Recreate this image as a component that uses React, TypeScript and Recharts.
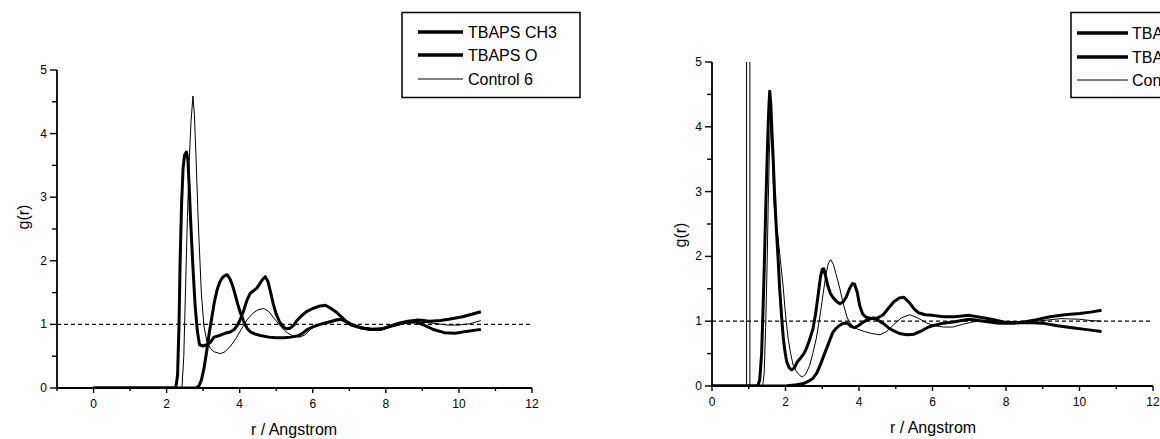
import React from 'react';
import { LineChart, Line, XAxis, YAxis, ReferenceLine } from 'recharts';

const FONT = "'Liberation Sans', Arial, Helvetica, sans-serif";

// ---- series names / styles (legend order) ----
const seriesNames = ['TBAPS CH3', 'TBAPS O', 'Control 6'];
const seriesWidths = [3, 3, 1];

// ---- tick values ----
const xTicksLeft = [-1, 0, 1, 2, 3, 4, 5, 6, 7, 8, 9, 10, 11, 12];
const xTicksRight = [0, 1, 2, 3, 4, 5, 6, 7, 8, 9, 10, 11, 12];
const yTicks = [0, 0.5, 1, 1.5, 2, 2.5, 3, 3.5, 4, 4.5, 5];
const refLevel = 1;
const rightSpikes = [0.94, 1.03];

// ---- left panel data: [r, g(r)] ----
const leftCH3 = [[0,0],[2.8,0],[2.88,0.03],[2.95,0.12],[3.02,0.3],[3.1,0.59],[3.17,0.88],[3.24,1.12],[3.31,1.36],[3.38,1.54],[3.45,1.66],[3.52,1.73],[3.6,1.77],[3.66,1.78],[3.73,1.72],[3.8,1.62],[3.87,1.48],[3.94,1.33],[4.02,1.18],[4.1,1.06],[4.2,0.94],[4.3,0.88],[4.42,0.85],[4.6,0.82],[4.8,0.8],[5.0,0.79],[5.2,0.79],[5.4,0.8],[5.6,0.82],[5.72,0.86],[5.85,0.92],[6.0,0.96],[6.2,1.0],[6.4,1.03],[6.6,1.06],[6.78,1.08],[6.92,1.04],[7.05,0.99],[7.3,0.95],[7.6,0.92],[7.9,0.93],[8.2,0.98],[8.5,1.03],[8.8,1.04],[9.05,0.99],[9.3,0.92],[9.6,0.87],[9.9,0.86],[10.2,0.89],[10.45,0.91],[10.6,0.92]];
const leftO = [[0,0],[2.25,0],[2.3,0.2],[2.34,1.0],[2.37,2.0],[2.41,2.9],[2.45,3.45],[2.49,3.66],[2.54,3.71],[2.58,3.6],[2.62,3.15],[2.66,2.6],[2.72,1.9],[2.78,1.3],[2.84,0.9],[2.9,0.68],[3.0,0.66],[3.1,0.68],[3.2,0.72],[3.3,0.8],[3.47,0.83],[3.6,0.86],[3.74,0.88],[3.85,0.92],[3.93,0.98],[4.02,1.08],[4.11,1.22],[4.2,1.38],[4.29,1.49],[4.38,1.53],[4.47,1.57],[4.55,1.64],[4.63,1.71],[4.7,1.75],[4.77,1.68],[4.84,1.52],[4.92,1.32],[5.0,1.16],[5.1,1.03],[5.2,0.96],[5.28,0.93],[5.38,0.94],[5.48,0.99],[5.58,1.07],[5.7,1.14],[5.83,1.2],[6.0,1.25],[6.2,1.29],[6.35,1.3],[6.5,1.25],[6.65,1.19],[6.8,1.11],[6.93,1.04],[7.1,0.99],[7.35,0.94],[7.6,0.92],[7.85,0.92],[8.1,0.97],[8.35,1.02],[8.6,1.05],[8.9,1.07],[9.2,1.05],[9.5,1.06],[9.8,1.09],[10.1,1.12],[10.35,1.16],[10.6,1.2]];
const leftControl = [[0,0],[2.42,0],[2.47,0.5],[2.52,1.6],[2.57,2.7],[2.62,3.6],[2.67,4.2],[2.72,4.59],[2.76,4.3],[2.8,3.7],[2.87,2.55],[2.95,1.5],[3.02,0.98],[3.1,0.74],[3.2,0.62],[3.3,0.57],[3.47,0.54],[3.6,0.57],[3.75,0.66],[3.9,0.78],[4.05,0.93],[4.2,1.07],[4.35,1.17],[4.5,1.23],[4.66,1.25],[4.8,1.2],[4.92,1.11],[5.02,1.04],[5.15,0.95],[5.3,0.87],[5.45,0.82],[5.65,0.8],[5.8,0.84],[5.93,0.92],[6.1,0.98],[6.25,1.02],[6.39,1.04],[6.6,1.08],[6.75,1.09],[6.9,1.06],[7.02,1.01],[7.3,0.96],[7.6,0.94],[7.9,0.94],[8.2,0.97],[8.5,1.01],[8.8,1.03],[9.1,1.03],[9.4,1.01],[9.7,0.99],[10.0,0.99],[10.3,1.01],[10.6,1.06]];

// ---- right panel data ----
const rightCH3 = [[0,0],[2.0,0],[2.3,0.02],[2.5,0.04],[2.62,0.07],[2.75,0.12],[2.85,0.2],[2.95,0.33],[3.05,0.48],[3.12,0.58],[3.2,0.7],[3.28,0.82],[3.36,0.88],[3.46,0.93],[3.57,0.97],[3.68,0.97],[3.78,0.92],[3.88,0.9],[3.98,0.93],[4.1,0.98],[4.22,1.02],[4.38,1.05],[4.5,1.02],[4.65,0.97],[4.8,0.9],[4.95,0.85],[5.1,0.81],[5.3,0.79],[5.5,0.8],[5.7,0.85],[5.85,0.9],[6.0,0.93],[6.3,0.97],[6.6,0.99],[7.0,1.03],[7.4,1.0],[7.8,0.97],[8.2,0.97],[8.6,0.98],[9.0,0.97],[9.4,0.93],[9.8,0.9],[10.2,0.87],[10.6,0.84]];
const rightO = [[0,0],[1.25,0],[1.3,0.1],[1.35,0.5],[1.39,1.2],[1.43,2.0],[1.47,2.9],[1.51,3.7],[1.54,4.2],[1.57,4.55],[1.6,4.35],[1.63,3.95],[1.66,3.57],[1.7,3.0],[1.75,2.44],[1.8,1.95],[1.84,1.51],[1.89,1.1],[1.94,0.74],[1.98,0.55],[2.03,0.38],[2.1,0.28],[2.17,0.25],[2.24,0.28],[2.32,0.37],[2.42,0.44],[2.5,0.5],[2.57,0.58],[2.66,0.72],[2.75,0.89],[2.82,1.12],[2.89,1.41],[2.95,1.68],[3.0,1.8],[3.04,1.81],[3.09,1.7],[3.15,1.55],[3.22,1.43],[3.3,1.36],[3.4,1.3],[3.48,1.27],[3.57,1.3],[3.66,1.38],[3.74,1.5],[3.82,1.58],[3.88,1.57],[3.95,1.45],[4.02,1.24],[4.1,1.11],[4.2,1.06],[4.35,1.04],[4.5,1.05],[4.66,1.1],[4.8,1.2],[4.95,1.3],[5.1,1.36],[5.22,1.37],[5.38,1.28],[5.5,1.19],[5.62,1.13],[5.8,1.1],[6.0,1.09],[6.3,1.07],[6.6,1.07],[7.0,1.09],[7.3,1.06],[7.6,1.03],[8.0,0.98],[8.4,0.98],[8.8,1.02],[9.2,1.07],[9.6,1.1],[10.0,1.12],[10.3,1.14],[10.6,1.17]];
const rightControl = [[0,0],[1.38,0],[1.42,0.2],[1.46,0.9],[1.5,1.9],[1.53,2.8],[1.56,3.6],[1.6,4.1],[1.64,3.6],[1.69,2.8],[1.74,2.42],[1.79,2.33],[1.86,1.95],[1.94,1.51],[2.0,1.1],[2.07,0.74],[2.14,0.5],[2.21,0.32],[2.3,0.22],[2.39,0.16],[2.46,0.14],[2.55,0.18],[2.66,0.32],[2.75,0.52],[2.84,0.74],[2.93,1.05],[3.02,1.41],[3.1,1.72],[3.17,1.9],[3.23,1.95],[3.3,1.88],[3.38,1.72],[3.48,1.5],[3.58,1.25],[3.68,1.05],[3.8,0.94],[3.95,0.88],[4.15,0.84],[4.35,0.81],[4.57,0.79],[4.75,0.84],[4.95,0.95],[5.15,1.05],[5.38,1.1],[5.6,1.05],[5.85,0.97],[6.05,0.93],[6.3,0.91],[6.55,0.91],[6.8,0.95],[7.1,0.99],[7.5,1.01],[8.0,0.98],[8.5,0.99],[9.0,1.01],[9.5,1.04],[10.0,1.03],[10.3,1.01],[10.6,1.0]];

const toPts = (a: number[][]) => a.map(([r, g]) => ({ r, g }));

const XTick = (props: any) => {
  const { x, y, payload } = props;
  const v = payload.value;
  const major = Math.abs(v % 2) < 1e-9;
  return (
    <g>
      <line x1={x} x2={x} y1={y} y2={y + (major ? 5 : 3)} stroke="#000" strokeWidth={1.4} />
      {major && (
        <text x={x} y={y + 20} textAnchor="middle" fontSize={12} fontFamily={FONT} fill="#000">{v}</text>
      )}
    </g>
  );
};

const YTick = (props: any) => {
  const { x, y, payload } = props;
  const v = payload.value;
  const major = Math.abs(v - Math.round(v)) < 1e-9;
  return (
    <g>
      <line x1={x - (major ? 7 : 5)} x2={x} y1={y} y2={y} stroke="#000" strokeWidth={1.4} />
      {major && (
        <text x={x - 10} y={y + 4} textAnchor="end" fontSize={12} fontFamily={FONT} fill="#000">{v}</text>
      )}
    </g>
  );
};

type PanelProps = {
  series: number[][][];
  xDomain: [number, number];
  xTicks: number[];
  margin: { top: number; right: number; bottom: number; left: number };
  spikes?: number[];
};

const Panel = ({ series, xDomain, xTicks, margin, spikes = [] }: PanelProps) => (
  <LineChart width={580} height={439} margin={margin}>
    <XAxis
      type="number"
      dataKey="r"
      domain={xDomain}
      ticks={xTicks}
      interval={0}
      allowDataOverflow
      height={40}
      tickSize={0}
      tickMargin={0}
      tickLine={false}
      axisLine={{ stroke: '#000', strokeWidth: 1.8 }}
      tick={<XTick />}
    />
    <YAxis
      type="number"
      domain={[0, 5]}
      ticks={yTicks}
      interval={0}
      allowDataOverflow
      width={50}
      tickSize={0}
      tickMargin={0}
      tickLine={false}
      axisLine={{ stroke: '#000', strokeWidth: 1.8 }}
      tick={<YTick />}
    />
    <ReferenceLine y={refLevel} stroke="#000" strokeWidth={1.3} strokeDasharray="4 3" />
    {spikes.map((s) => (
      <ReferenceLine key={s} x={s} stroke="#000" strokeWidth={1} />
    ))}
    {series.map((d, i) => (
      <Line
        key={seriesNames[i]}
        data={toPts(d)}
        dataKey="g"
        name={seriesNames[i]}
        type="linear"
        stroke="#000"
        strokeWidth={seriesWidths[i]}
        strokeLinejoin="round"
        dot={false}
        activeDot={false}
        isAnimationActive={false}
      />
    ))}
  </LineChart>
);

const LegendBox = ({ x, y, lineX1, lineX2, textX, rows }: { x: number; y: number; lineX1: number; lineX2: number; textX: number; rows: number[] }) => (
  <g>
    <rect x={x} y={y} width={178} height={85} fill="#fff" stroke="#000" strokeWidth={1.5} />
    {seriesNames.map((n, i) => (
      <g key={n}>
        <line x1={lineX1} x2={lineX2} y1={rows[i]} y2={rows[i]} stroke="#000" strokeWidth={seriesWidths[i] === 1 ? 1 : 3.5} />
        <text x={textX} y={rows[i] + 6} fontSize={16} fontFamily={FONT} fill="#000">{n}</text>
      </g>
    ))}
  </g>
);

export default function App() {
  return (
    <div style={{ position: 'absolute', left: 0, top: 0, width: 1160, height: 439, overflow: 'hidden', background: '#fff' }}>
      <div style={{ position: 'absolute', left: 0, top: 0 }}>
        <Panel
          series={[leftCH3, leftO, leftControl]}
          xDomain={[-1, 12]}
          xTicks={xTicksLeft}
          margin={{ top: 70, right: 48, bottom: 11, left: 7 }}
        />
      </div>
      <div style={{ position: 'absolute', left: 580, top: 0 }}>
        <Panel
          series={[rightCH3, rightO, rightControl]}
          xDomain={[0, 12]}
          xTicks={xTicksRight}
          margin={{ top: 62, right: 7, bottom: 13, left: 82 }}
          spikes={rightSpikes}
        />
      </div>
      <svg width={1160} height={439} style={{ position: 'absolute', left: 0, top: 0, pointerEvents: 'none' }}>
        <text x={29} y={217} transform="rotate(-90 29 217)" textAnchor="middle" fontSize={16} fontFamily={FONT} fill="#000">g(r)</text>
        <text x={294} y={435} textAnchor="middle" fontSize={16} fontFamily={FONT} fill="#000">r / Angstrom</text>
        <text x={686} y={235} transform="rotate(-90 686 235)" textAnchor="middle" fontSize={16} fontFamily={FONT} fill="#000">g(r)</text>
        <text x={933} y={433} textAnchor="middle" fontSize={16} fontFamily={FONT} fill="#000">r / Angstrom</text>
        <LegendBox x={402} y={12.5} lineX1={418} lineX2={463} textX={468} rows={[32, 55, 79]} />
        <LegendBox x={1071} y={12.5} lineX1={1077} lineX2={1128} textX={1132} rows={[33, 57, 80]} />
      </svg>
    </div>
  );
}
